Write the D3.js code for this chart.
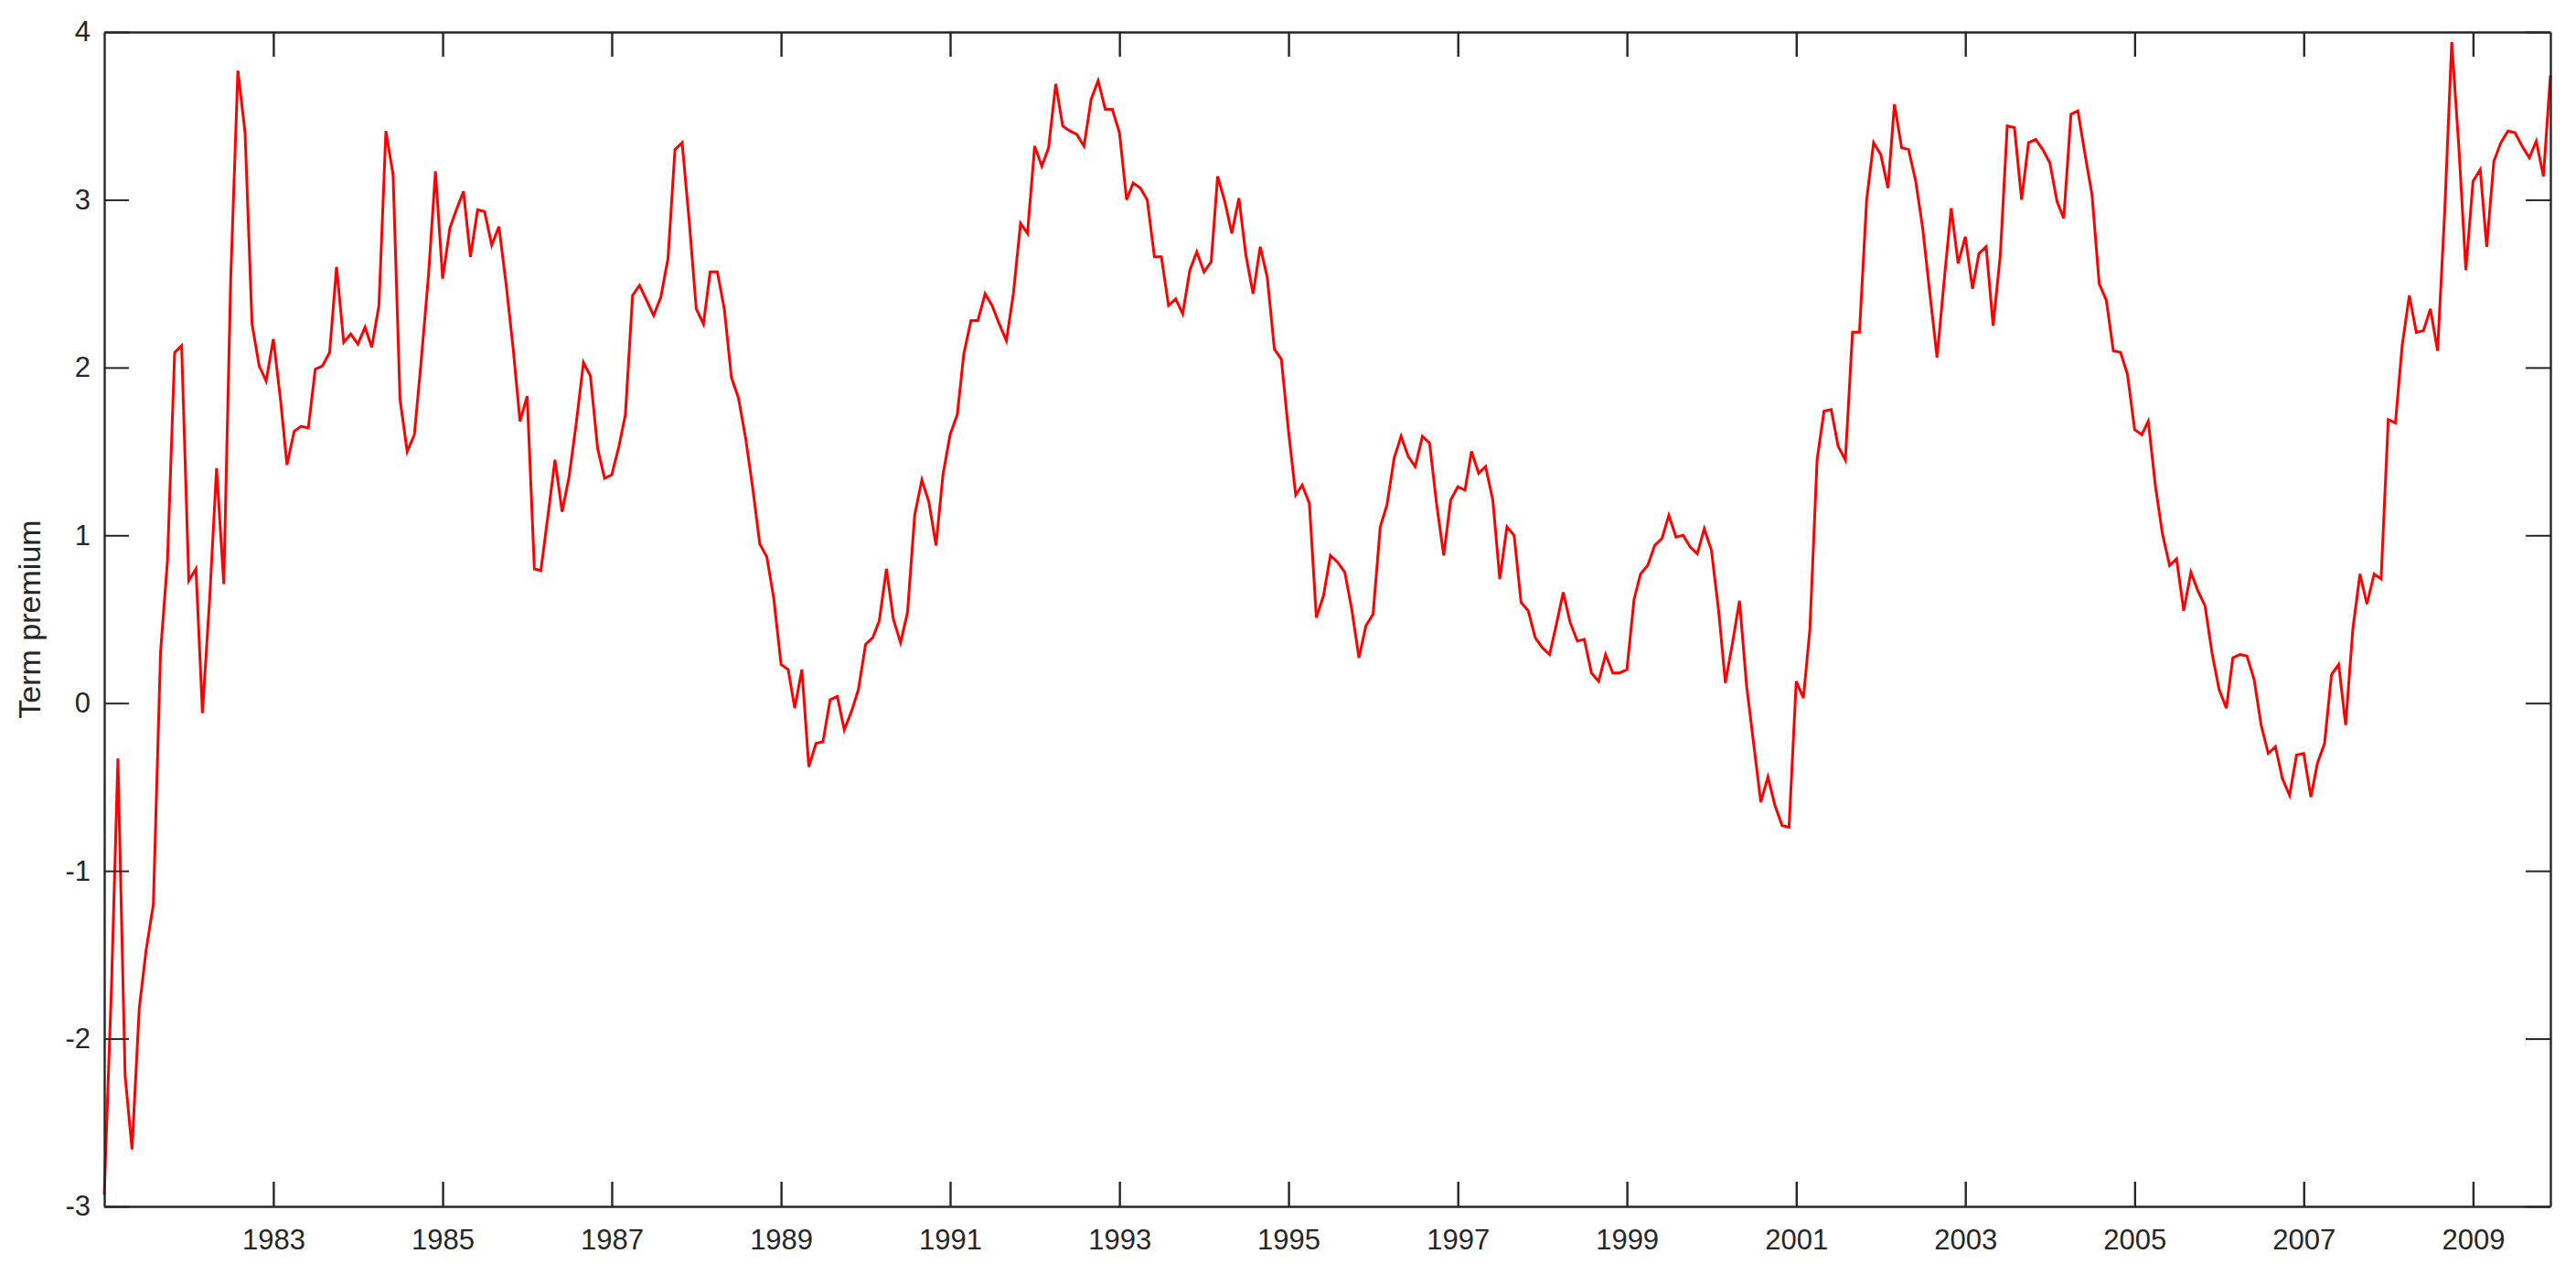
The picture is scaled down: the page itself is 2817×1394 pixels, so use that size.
<!DOCTYPE html>
<html>
<head>
<meta charset="utf-8">
<script src="https://cdn.jsdelivr.net/npm/d3@7"></script>
<style>
  html, body { margin: 0; padding: 0; background: #ffffff; }
  svg { display: block; }
  text { font-family: "Liberation Sans", Arial, Helvetica, sans-serif; fill: #262626; }
</style>
</head>
<body>
<svg id="chart" width="2817" height="1394"></svg>
<script>
// ---- Data (monthly, Jan 1981 .. Dec 2009) ----
const startYear = 1981;
const startMonth = 0; // January
const termPremium = [
  -2.93, -1.70, -0.33, -2.22, -2.66, -1.82, -1.47, -1.20, 0.30, 0.85, 2.09, 2.13,
  0.73, 0.80, -0.06, 0.62, 1.40, 0.71, 2.53, 3.77, 3.40, 2.26, 2.01, 1.92,
  2.17, 1.81, 1.42, 1.62, 1.65, 1.64, 1.99, 2.01, 2.09, 2.60, 2.15, 2.20,
  2.14, 2.24, 2.12, 2.37, 3.41, 3.15, 1.81, 1.50, 1.60, 2.05, 2.55, 3.17,
  2.53, 2.83, 2.94, 3.05, 2.66, 2.94, 2.93, 2.73, 2.84, 2.51, 2.12, 1.68,
  1.83, 0.80, 0.79, 1.12, 1.45, 1.14, 1.35, 1.67, 2.03, 1.95, 1.52, 1.34,
  1.36, 1.53, 1.72, 2.43, 2.49, 2.40, 2.31, 2.42, 2.65, 3.30, 3.34, 2.88,
  2.35, 2.26, 2.57, 2.57, 2.35, 1.94, 1.82, 1.58, 1.28, 0.95, 0.87, 0.62,
  0.23, 0.20, -0.03, 0.20, -0.38, -0.24, -0.23, 0.02, 0.04, -0.16, -0.05, 0.08,
  0.35, 0.39, 0.49, 0.80, 0.50, 0.36, 0.54, 1.12, 1.33, 1.20, 0.94, 1.36,
  1.60, 1.72, 2.08, 2.28, 2.28, 2.44, 2.37, 2.26, 2.16, 2.44, 2.86, 2.80,
  3.32, 3.20, 3.31, 3.69, 3.44, 3.41, 3.39, 3.32, 3.60, 3.71, 3.54, 3.54,
  3.40, 3.00, 3.10, 3.07, 3.00, 2.66, 2.66, 2.37, 2.41, 2.32, 2.58, 2.69,
  2.57, 2.63, 3.14, 2.99, 2.80, 3.01, 2.67, 2.44, 2.72, 2.54, 2.11, 2.05,
  1.62, 1.24, 1.30, 1.19, 0.51, 0.64, 0.88, 0.84, 0.78, 0.56, 0.27, 0.46,
  0.53, 1.05, 1.18, 1.46, 1.59, 1.47, 1.41, 1.59, 1.55, 1.19, 0.88, 1.21,
  1.29, 1.27, 1.50, 1.37, 1.41, 1.21, 0.74, 1.05, 1.00, 0.60, 0.55, 0.39,
  0.33, 0.29, 0.46, 0.66, 0.48, 0.37, 0.38, 0.18, 0.13, 0.29, 0.18, 0.18,
  0.20, 0.62, 0.77, 0.82, 0.94, 0.98, 1.12, 0.99, 1.00, 0.93, 0.89, 1.04,
  0.91, 0.55, 0.12, 0.36, 0.61, 0.10, -0.24, -0.59, -0.44, -0.61, -0.73, -0.74,
  0.13, 0.03, 0.44, 1.45, 1.74, 1.75, 1.53, 1.45, 2.21, 2.21, 3.00, 3.34,
  3.27, 3.07, 3.57, 3.31, 3.30, 3.11, 2.83, 2.44, 2.06, 2.51, 2.95, 2.62,
  2.78, 2.47, 2.68, 2.72, 2.25, 2.67, 3.44, 3.43, 3.00, 3.34, 3.36, 3.30,
  3.22, 2.99, 2.89, 3.51, 3.53, 3.27, 3.03, 2.50, 2.40, 2.10, 2.09, 1.96,
  1.63, 1.60, 1.68, 1.29, 1.01, 0.82, 0.86, 0.55, 0.78, 0.67, 0.58, 0.30,
  0.08, -0.03, 0.27, 0.29, 0.28, 0.14, -0.13, -0.30, -0.26, -0.45, -0.55, -0.31,
  -0.30, -0.56, -0.36, -0.24, 0.17, 0.23, -0.13, 0.44, 0.77, 0.59, 0.77, 0.74,
  1.69, 1.67, 2.13, 2.43, 2.21, 2.22, 2.35, 2.10, 2.94, 3.94, 3.31, 2.58,
  3.11, 3.18, 2.72, 3.23, 3.34, 3.41, 3.40, 3.32, 3.25, 3.35, 3.14, 3.74
];
const xTickYears = [1983, 1985, 1987, 1989, 1991, 1993, 1995, 1997, 1999, 2001, 2003, 2005, 2007, 2009];
const yTicks = [-3, -2, -1, 0, 1, 2, 3, 4];
const yDomain = [-3, 4];
const yLabel = "Term premium";

// ---- Build records ----
const data = termPremium.map((v, i) => ({
  date: new Date(startYear, startMonth + i, 1),
  value: v
}));

// ---- Layout ----
const W = 2817, H = 1394;
const plot = { left: 114, right: 2789, top: 35, bottom: 1319 };
const axisColor = "#262626";
const fontSize = 31;

const svg = d3.select("#chart");
svg.append("rect").attr("width", W).attr("height", H).attr("fill", "#ffffff");

const x = d3.scaleTime()
  .domain(d3.extent(data, d => d.date))
  .range([plot.left, plot.right]);
const y = d3.scaleLinear()
  .domain(yDomain)
  .range([plot.bottom, plot.top]);

const xTickDates = xTickYears.map(yr => new Date(yr, 0, 1));
const fmtYear = d3.timeFormat("%Y");

// ---- Line ----
const line = d3.line()
  .x(d => x(d.date))
  .y(d => y(d.value));

svg.append("path")
  .datum(data)
  .attr("fill", "none")
  .attr("stroke", "#ff0000")
  .attr("stroke-width", 3)
  .attr("stroke-linejoin", "miter")
  .attr("d", line);

// ---- Axes ----
function styleAxis(g, w) {
  g.selectAll("path.domain").attr("stroke", axisColor).attr("stroke-width", 2.4);
  g.selectAll(".tick line").attr("stroke", axisColor).attr("stroke-width", w);
  g.selectAll(".tick text")
    .attr("font-size", fontSize)
    .attr("font-family", '"Liberation Sans", Arial, Helvetica, sans-serif')
    .attr("fill", axisColor);
}

const tickLen = 27;

const gBottom = svg.append("g")
  .attr("transform", `translate(0,${plot.bottom})`)
  .call(d3.axisBottom(x).tickValues(xTickDates).tickFormat(fmtYear)
    .tickSizeInner(-tickLen).tickSizeOuter(0).tickPadding(25));
styleAxis(gBottom, 2.4);

const gTop = svg.append("g")
  .attr("transform", `translate(0,${plot.top})`)
  .call(d3.axisTop(x).tickValues(xTickDates).tickFormat("")
    .tickSizeInner(-tickLen).tickSizeOuter(0));
styleAxis(gTop, 2.4);

const gLeft = svg.append("g")
  .attr("transform", `translate(${plot.left},0)`)
  .call(d3.axisLeft(y).tickValues(yTicks).tickFormat(d => String(d))
    .tickSizeInner(-tickLen).tickSizeOuter(0).tickPadding(15));
styleAxis(gLeft, 2);

const gRight = svg.append("g")
  .attr("transform", `translate(${plot.right},0)`)
  .call(d3.axisRight(y).tickValues(yTicks).tickFormat("")
    .tickSizeInner(-tickLen).tickSizeOuter(0));
styleAxis(gRight, 2);

// ---- Y label ----
svg.append("text")
  .attr("transform", `translate(32,${(plot.top + plot.bottom) / 2}) rotate(-90)`)
  .attr("text-anchor", "middle")
  .attr("dominant-baseline", "central")
  .attr("font-size", 34)
  .attr("fill", axisColor)
  .text(yLabel);
</script>
</body>
</html>
